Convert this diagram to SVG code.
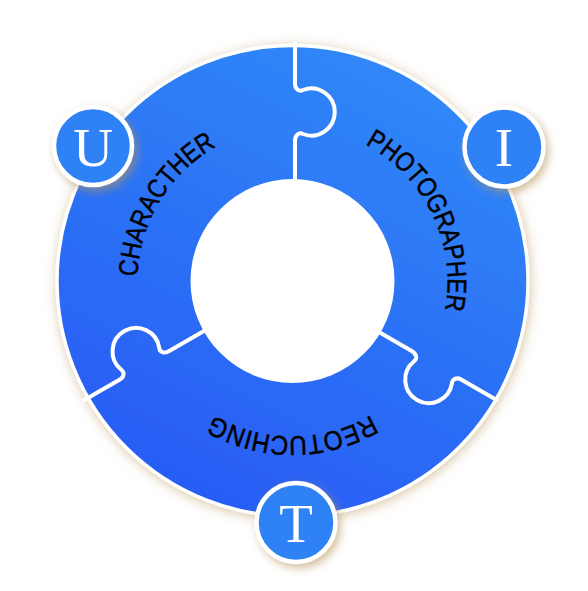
<svg xmlns="http://www.w3.org/2000/svg" width="588" height="591" viewBox="0 0 588 591">
  <defs>
    <linearGradient id="ringGrad" x1="0.75" y1="0.05" x2="0.3" y2="0.95">
      <stop offset="0" stop-color="#3088f8"/>
      <stop offset="0.5" stop-color="#2c72f5"/>
      <stop offset="1" stop-color="#285df5"/>
    </linearGradient>
    <filter id="glow" x="-20%" y="-20%" width="140%" height="140%">
      <feDropShadow dx="1" dy="2" stdDeviation="6" flood-color="#b8955a" flood-opacity="0.55"/>
    </filter>
    <filter id="badgeShadow" x="-40%" y="-40%" width="180%" height="180%">
      <feDropShadow dx="3" dy="4" stdDeviation="4" flood-color="#b8955a" flood-opacity="0.6"/>
    </filter>
    <path id="knob" d="M 95 0 L 140 0 C 146 0 149 4 147 8 A 23.5 23.5 0 1 0 191 8 C 189 4 192 0 197 0 L 238 0"/>
    <path id="textCircle" d="M 292.5 126.5 A 155 155 0 1 1 292.5 436.5 A 155 155 0 1 1 292.5 126.5"/>
  </defs>
  <style>
    .divider { fill: none; stroke: #ffffff; stroke-width: 4; stroke-linecap: round; stroke-linejoin: round; }
    .label { font-family: "Liberation Sans", Arial, sans-serif; font-size: 27px; fill: #000000; stroke: #000000; stroke-width: 0.5; }
    .badge circle { fill: #2e82f6; stroke: #ffffff; stroke-width: 4.5; }
    .badge text { font-family: "Liberation Serif", "Times New Roman", serif; font-size: 55px; fill: #ffffff; text-anchor: middle; }
  </style>

  <g id="ring">
    <circle cx="292.5" cy="281" r="235.5" fill="url(#ringGrad)" stroke="#ffffff" stroke-width="3.5" filter="url(#glow)"/>
  </g>

  <g id="connectors">
    <use href="#knob" class="divider" transform="translate(295 281) rotate(-90)"/>
    <use href="#knob" class="divider" transform="translate(290.5 281) rotate(30)"/>
    <use href="#knob" class="divider" transform="translate(290.5 281) rotate(150)"/>
  </g>

  <g id="hub">
    <circle cx="292.5" cy="281" r="102" fill="#ffffff"/>
  </g>

  <g id="photographer">
    <text class="label"><textPath href="#textCircle" startOffset="75.5" textLength="196.7" lengthAdjust="spacingAndGlyphs">PHOTOGRAPHER</textPath></text>
  </g>
  <g id="reotuching">
    <text class="label"><textPath href="#textCircle" startOffset="404.4" textLength="165" lengthAdjust="spacingAndGlyphs">REOTUCHING</textPath></text>
  </g>
  <g id="charachter">
    <text class="label"><textPath href="#textCircle" startOffset="734.8" textLength="159.1" lengthAdjust="spacingAndGlyphs">CHARACTHER</textPath></text>
  </g>

  <g id="badge-u" class="badge" filter="url(#badgeShadow)">
    <circle cx="93" cy="146" r="39"/>
    <text x="93" y="165.5">U</text>
  </g>
  <g id="badge-i" class="badge" filter="url(#badgeShadow)">
    <circle cx="504" cy="147" r="39.5"/>
    <text x="504" y="166">I</text>
  </g>
  <g id="badge-t" class="badge" filter="url(#badgeShadow)">
    <circle cx="296" cy="522.5" r="39.5"/>
    <text x="296" y="541.5">T</text>
  </g>
</svg>
